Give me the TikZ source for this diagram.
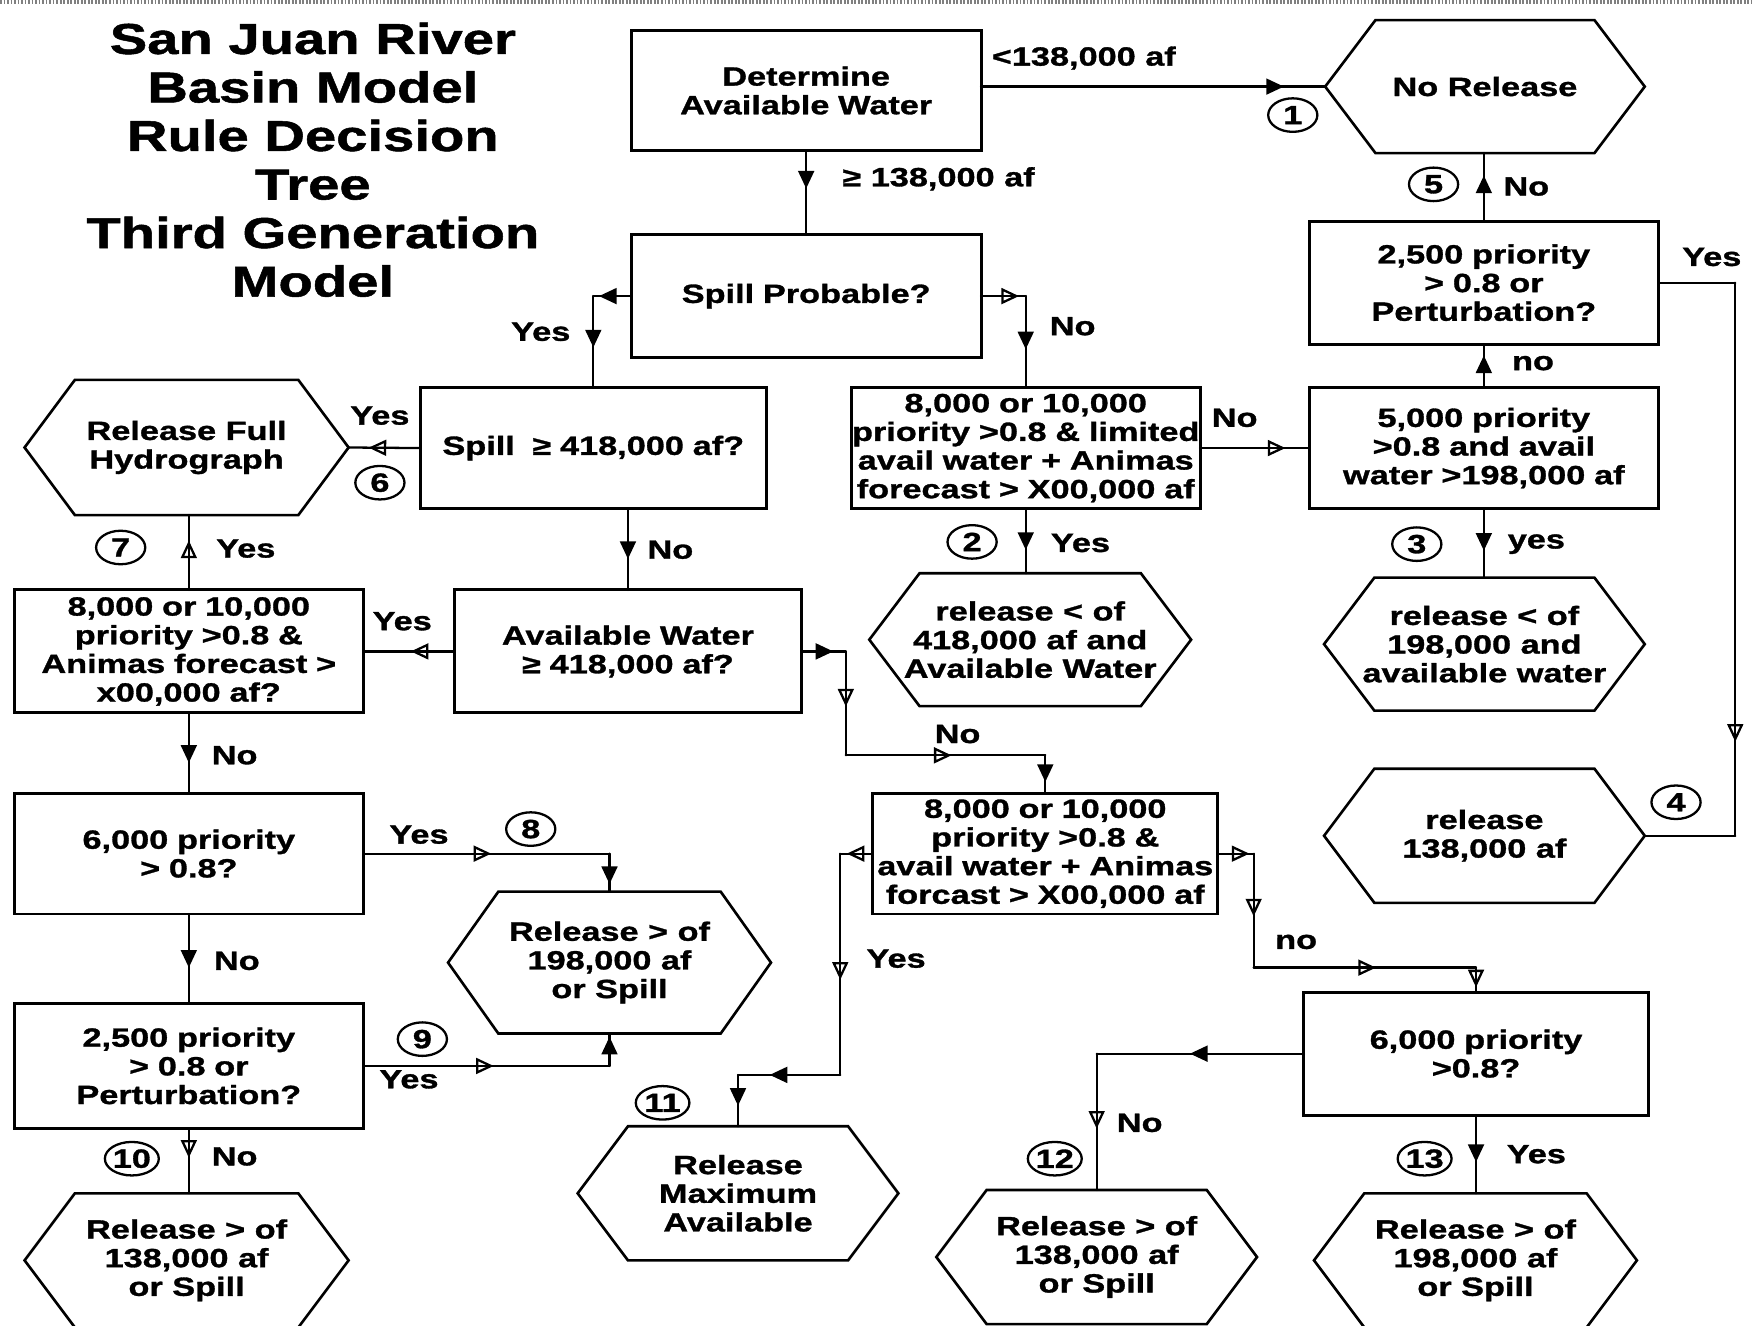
\documentclass[tikz,border=0pt]{standalone}
\usepackage{fontspec}
\newfontfamily\bodyf{Liberation Sans}[FakeStretch=1.3,FakeBold=1.2]
\usetikzlibrary{shapes.geometric,decorations.markings,arrows.meta,calc}
\newdimen\pxu \pxu=0.022346cm
\newcommand\myfnt{\bodyf\bfseries\fontsize{15}{16.3}\selectfont}
\newcommand\myttl{\bodyf\bfseries\fontsize{24.6}{27.6}\selectfont}
\begin{document}
\begin{tikzpicture}[x=0.022346cm,y=-0.022346cm,
  box/.style 2 args={draw,line width=1.7pt,inner sep=0pt,outer sep=0pt,align=center,
    font=\myfnt,minimum width=#1*\pxu,minimum height=#2*\pxu,text width=#1*\pxu},
  hexa/.style 2 args={inner sep=0pt,outer sep=0pt,align=center,font=\myfnt,
    minimum width=#1*\pxu,minimum height=#2*\pxu},
  conn/.style={line width=1.3pt,line cap=round},
  ma/.style={postaction={decorate},decoration={markings,
    mark=at position #1 with {\arrow{Triangle[length=10pt,width=9pt]}}}},
  mo/.style={postaction={decorate},decoration={markings,
    mark=at position #1 with {\arrow{Triangle[open,length=10pt,width=9pt]}}}},
  lab/.style={font=\myfnt,inner sep=0pt},
  circ/.style={draw,ellipse,line width=1.3pt,minimum width=44*\pxu,minimum height=30*\pxu,
    inner sep=0pt,font=\myfnt}]
\useasboundingbox (0,0) rectangle (1568,1186);
\clip (0,0) rectangle (1568,1186);
\fill[white] (0,0) rectangle (1568,1186);
\draw[gray,line width=2.5pt,dash pattern=on 1pt off 1pt] (0,2) -- (1568,2);

% title
\node[font=\myttl,align=center,inner sep=0pt] (title) at (280,143)
  {San Juan River\\Basin Model\\Rule Decision\\Tree\\Third Generation\\Model};

% rectangles
\node[box={313}{108}] (det) at (721.5,81) {Determine\\Available Water};
\node[box={313}{110}] (spp) at (721.5,265) {Spill Probable?};
\node[box={310}{108}] (spl) at (531,401) {Spill\ \ ≥ 418,000 af?};
\node[box={312}{108}] (b4) at (918,401) {8,000 or 10,000\\priority >0.8 \& limited\\avail water + Animas\\forecast > X00,000 af};
\node[box={312}{108}] (b5) at (1328,401) {5,000 priority\\>0.8 and avail\\water >198,000 af};
\node[box={312}{110}] (b6) at (1328,253) {2,500 priority\\> 0.8 or\\Perturbation?};
\node[box={310}{110}] (aw) at (562,583) {Available Water\\≥ 418,000 af?};
\node[box={312}{110}] (b8) at (169,583) {8,000 or 10,000\\priority >0.8 \&\\Animas forecast >\\x00,000 af?};
\node[box={309}{108}] (b9) at (935.5,764) {8,000 or 10,000\\priority >0.8 \&\\avail water + Animas\\forcast > X00,000 af};
\node[box={312}{108}] (b10) at (169,764) {6,000 priority\\> 0.8?};
\node[box={312}{112}] (b11) at (169,954) {2,500 priority\\> 0.8 or\\Perturbation?};
\node[box={308}{110}] (b12) at (1321,943) {6,000 priority\\>0.8?};

% hexagons
\node[hexa={286}{119}] (nr) at (1329,77.5) {No Release};
\node[hexa={290}{121}] (rfh) at (167,400.5) {Release Full\\Hydrograph};
\node[hexa={288}{119}] (hc) at (922,572.5) {release < of\\418,000 af and\\Available Water};
\node[hexa={287}{119}] (hd) at (1328.5,576.5) {release < of\\198,000 and\\available water};
\node[hexa={287}{120}] (he) at (1328.5,748) {release\\138,000 af};
\node[hexa={289}{127}] (hf) at (545.5,861.5) {Release > of\\198,000 af\\or Spill};
\node[hexa={287}{120}] (hg) at (660.5,1068) {Release\\Maximum\\Available};
\node[hexa={290}{120}] (hh) at (167,1128) {Release > of\\138,000 af\\or Spill};
\node[hexa={287}{120}] (hi) at (981.5,1125) {Release > of\\138,000 af\\or Spill};
\node[hexa={289}{120}] (hj) at (1320.5,1128) {Release > of\\198,000 af\\or Spill};
\foreach \n in {nr,rfh,hc,hd,he,hf,hg,hh,hi,hj}
  \draw[line width=1.5pt,line join=miter] (\n.west) -- ($(\n.north west)+(45,0)$)
    -- ($(\n.north east)+(-45,0)$) -- (\n.east) -- ($(\n.south east)+(-45,0)$)
    -- ($(\n.south west)+(45,0)$) -- cycle;

% connectors
\draw[conn,ma=0.88] (det.east |- nr.west) -- (nr.west);
\draw[conn,ma=0.45] (det.south) -- (spp.north);
\coordinate (q1) at (spl.north |- spp.west);
\draw[conn,ma=0.85] (spp.west) -- (q1);
\draw[conn,ma=0.56] (q1) -- (spl.north);
\coordinate (q2) at (b4.north |- spp.east);
\draw[conn,mo=0.85] (spp.east) -- (q2);
\draw[conn,ma=0.58] (q2) -- (b4.north);
\draw[conn,mo=0.72] (spl.west) -- (rfh.east);
\draw[conn,ma=0.62] (aw.north |- spl.south) -- (aw.north);
\draw[conn,mo=0.78] (b4.east) -- (b5.west);
\draw[conn,ma=0.64] (b4.south) -- (b4.south |- hc.north);
\draw[conn,ma=0.61] (b5.south) -- (b5.south |- hd.north);
\draw[conn,ma=0.74] (b5.north) -- (b6.south);
\draw[conn,ma=0.67] (b6.north) -- (b6.north |- nr.south);
\coordinate (q3) at ($(b6.east)+(69,0)$);
\coordinate (q4) at (q3 |- he.east);
\draw[conn] (b6.east) -- (q3);
\draw[conn,mo=0.83] (q3) -- (q4);
\draw[conn] (q4) -- (he.east);
\draw[conn,mo=0.48] (aw.west) -- (b8.east);
\coordinate (r1) at ($(aw.east)+(40,0)$);
\coordinate (r2) at (757,676);
\coordinate (r3) at (b9.north |- r2);
\draw[conn,ma=0.72] (aw.east) -- (r1);
\draw[conn,mo=0.53] (r1) -- (r2);
\draw[conn,mo=0.53] (r2) -- (r3);
\draw[conn,ma=0.7] (r3) -- (b9.north);
\draw[conn,mo=0.66] (b8.north) -- (b8.north |- rfh.south);
\draw[conn,ma=0.62] (b8.south) -- (b10.north);
\coordinate (s1) at (hf.north |- b10.east);
\draw[conn,mo=0.52] (b10.east) -- (s1);
\draw[conn,ma=0.8] (s1) -- (hf.north);
\draw[conn,ma=0.6] (b10.south) -- (b11.north);
\coordinate (s2) at (hf.south |- b11.east);
\draw[conn,mo=0.53] (b11.east) -- (s2);
\draw[conn,ma=0.9] (s2) -- (hf.south);
\draw[conn,mo=0.45] (b11.south) -- (b11.south |- hh.north);
\coordinate (t1) at ($(b9.west)+(-29,0)$);
\coordinate (t2) at (752,962);
\coordinate (t3) at (hg.north |- t2);
\draw[conn,mo=0.8] (b9.west) -- (t1);
\draw[conn,mo=0.57] (t1) -- (t2);
\draw[conn,ma=0.69] (t2) -- (t3);
\draw[conn,ma=0.6] (t3) -- (hg.north);
\coordinate (u1) at ($(b9.east)+(32,0)$);
\coordinate (u2) at (1122,866);
\coordinate (u3) at (b12.north |- u2);
\draw[conn,mo=0.88] (b9.east) -- (u1);
\draw[conn,mo=0.55] (u1) -- (u2);
\draw[conn,mo=0.55] (u2) -- (u3);
\draw[conn,mo=0.8] (u3) -- (b12.north);
\coordinate (v1) at (hi.north |- b12.west);
\draw[conn,ma=0.55] (b12.west) -- (v1);
\draw[conn,mo=0.55] (v1) -- (hi.north);
\draw[conn,ma=0.6] (b12.south) -- (b12.south |- hj.north);

% labels
\node[lab] (l1) at (970,52) {<138,000 af};
\node[lab] (l2) at (840,160) {≥ 138,000 af};
\node[lab] (l3) at (484,297) {Yes};
\node[lab] (l4) at (960,292) {No};
\node[lab] (l5) at (340,372) {Yes};
\node[lab] (l6) at (600,492) {No};
\node[lab] (l7) at (1105,374) {No};
\node[lab] (l8) at (967,486) {Yes};
\node[lab] (l9) at (1375,487) {yes};
\node[lab] (l10) at (1372,325) {no};
\node[lab] (l11) at (1366,167) {No};
\node[lab] (l12) at (1532,230) {Yes};
\node[lab] (l13) at (360,556) {Yes};
\node[lab] (l14) at (857,657) {No};
\node[lab] (l15) at (220,491) {Yes};
\node[lab] (l16) at (210,676) {No};
\node[lab] (l17) at (375,747) {Yes};
\node[lab] (l18) at (212,860) {No};
\node[lab] (l19) at (366,966) {Yes};
\node[lab] (l20) at (210,1035) {No};
\node[lab] (l21) at (802,858) {Yes};
\node[lab] (l22) at (1160,843) {no};
\node[lab] (l23) at (1020,1005) {No};
\node[lab] (l24) at (1375,1033) {Yes};

% circled numbers
\node[circ] (c1) at (1157,103) {1};
\node[circ] (c2) at (870,485) {2};
\node[circ] (c3) at (1268,487) {3};
\node[circ] (c4) at (1500,718) {4};
\node[circ] (c5) at (1283,165) {5};
\node[circ] (c6) at (340,432) {6};
\node[circ] (c7) at (108,490) {7};
\node[circ] (c8) at (475,742) {8};
\node[circ] (c9) at (378,930) {9};
\node[circ,minimum width=48*\pxu] (c10) at (118,1037) {10};
\node[circ,minimum width=48*\pxu] (c11) at (593,987) {11};
\node[circ,minimum width=48*\pxu] (c12) at (944,1037) {12};
\node[circ,minimum width=48*\pxu] (c13) at (1275,1037) {13};
\end{tikzpicture}
\end{document}
